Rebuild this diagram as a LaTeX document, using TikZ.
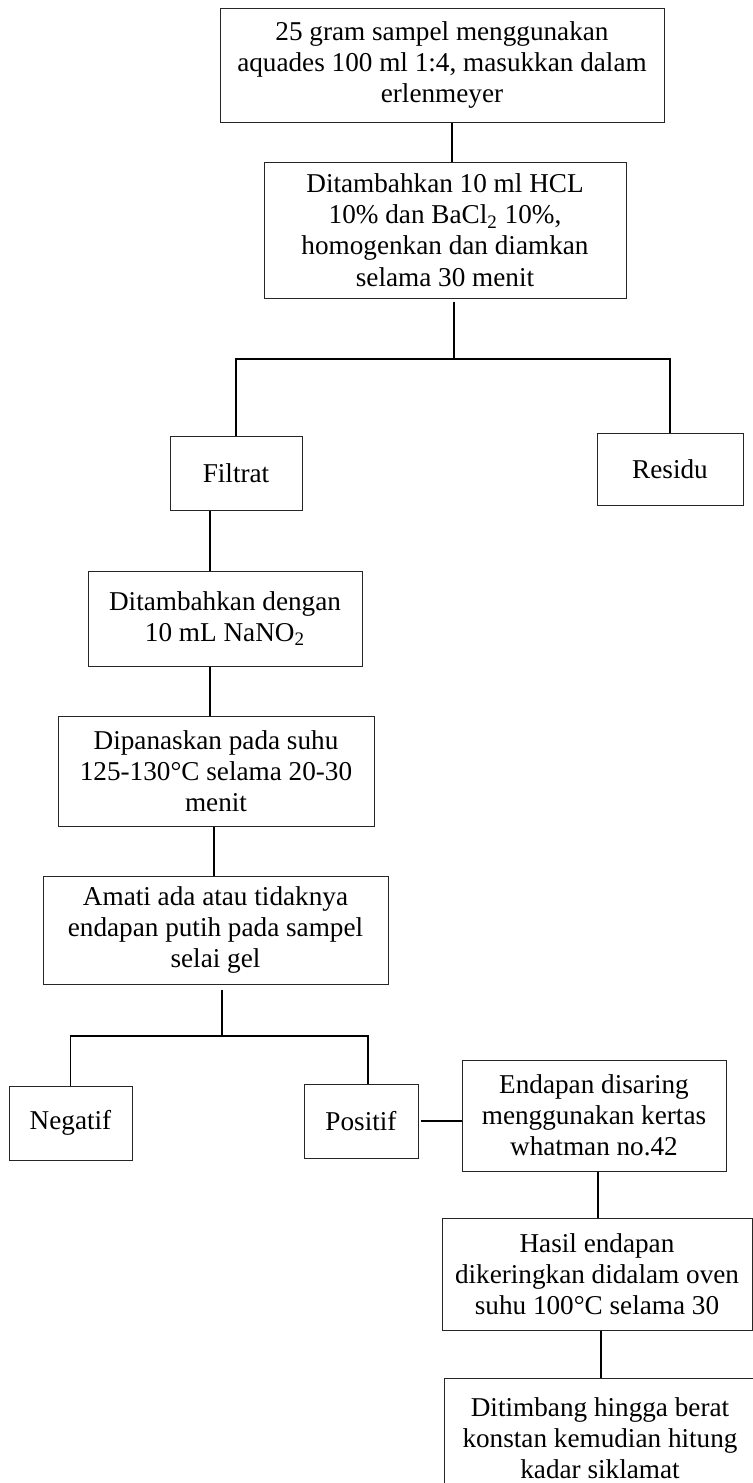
\documentclass[tikz,border=0pt]{standalone}
\usepackage{fontspec}
\setmainfont{Liberation Serif}
\usetikzlibrary{positioning}

\tikzset{
    langkah/.style={draw=black!85, line width=0.5pt, inner sep=0pt, align=center,
        font=\fontsize{13.6}{15.6}\selectfont},
    garis/.style={line width=0.9pt}
}

\begin{document}
\begin{tikzpicture}[x=0.5pt, y=-0.5pt]
    \useasboundingbox (0,0) rectangle (753,1483);
    \clip (0,0) rectangle (753,1483);

    % langkah persiapan
    \node[langkah, minimum width=222pt, minimum height=57pt] (sampel) at (442,65)
        {25 gram sampel menggunakan\\aquades 100 ml 1:4, masukkan dalam\\erlenmeyer};
    \node[langkah, minimum width=181pt, minimum height=68pt] (hcl) at (445,230)
        {Ditambahkan 10 ml HCL\\10\% dan BaCl\textsubscript{2} 10\%,\\homogenkan dan diamkan\\selama 30 menit};
    \node[langkah, minimum width=66pt, minimum height=37pt] (filtrat) at (236,473) {Filtrat};
    \node[langkah, minimum width=73pt, minimum height=36pt] (residu) at (670,469) {Residu};

    % uji filtrat
    \node[langkah, minimum width=137pt, minimum height=47.5pt] (nano) at (225,618.5)
        {Ditambahkan dengan\\10 mL NaNO\textsubscript{2}};
    \node[langkah, minimum width=158pt, minimum height=55pt] (panas) at (216,771)
        {Dipanaskan pada suhu\\125-130°C selama 20-30\\menit};
    \node[langkah, minimum width=172.5pt, minimum height=54pt] (amati) at (215.5,930)
        {Amati ada atau tidaknya\\endapan putih pada sampel\\selai gel};
    \node[langkah, minimum width=61.5pt, minimum height=37pt] (negatif) at (70.5,1123) {Negatif};
    \node[langkah, minimum width=57pt, minimum height=37pt] (positif) at (361,1121) {Positif};

    % penetapan kadar
    \node[langkah, minimum width=132pt, minimum height=55.5pt] (saring) at (594,1115.5)
        {Endapan disaring\\menggunakan kertas\\whatman no.42};
    \node[langkah, minimum width=155pt, minimum height=56pt] (hasil) at (597,1274)
        {Hasil endapan\\dikeringkan didalam oven\\suhu 100°C selama 30};
    \node[langkah, minimum width=156pt, minimum height=60pt] (timbang) at (600,1438)
        {Ditimbang hingga berat\\konstan kemudian hitung\\kadar siklamat};

    % garis penghubung
    \coordinate (cabang1) at (454,359);
    \coordinate (cabang2) at (222,1036);
    \draw[garis] ([xshift=5pt]sampel.south) -- ([xshift=5pt]sampel.south |- hcl.north);
    \draw[garis] ([yshift=-1.5pt]hcl.south -| cabang1) -- (cabang1);
    \draw[garis] (filtrat.north) |- (cabang1) -| (residu.north);
    \draw[garis] ([xshift=-13pt]filtrat.south) -- ([xshift=-13pt]filtrat.south |- nano.north);
    \draw[garis] ([xshift=-7.5pt]nano.south) -- ([xshift=-7.5pt]nano.south |- panas.north);
    \draw[garis] ([xshift=-1pt]panas.south) -- ([xshift=-1pt]panas.south |- amati.north);
    \draw[garis] ([yshift=-2.5pt]amati.south -| cabang2) -- (cabang2);
    \draw[garis] (negatif.north) |- (cabang2) -| ([xshift=3.5pt]positif.north);
    \draw[garis] ([xshift=1pt]positif.east) -- (positif.east -| saring.west);
    \draw[garis] ([xshift=2pt]saring.south) -- ([xshift=2pt]saring.south |- hasil.north);
    \draw[garis] ([xshift=2pt]hasil.south) -- ([xshift=2pt]hasil.south |- timbang.north);
\end{tikzpicture}
\end{document}
